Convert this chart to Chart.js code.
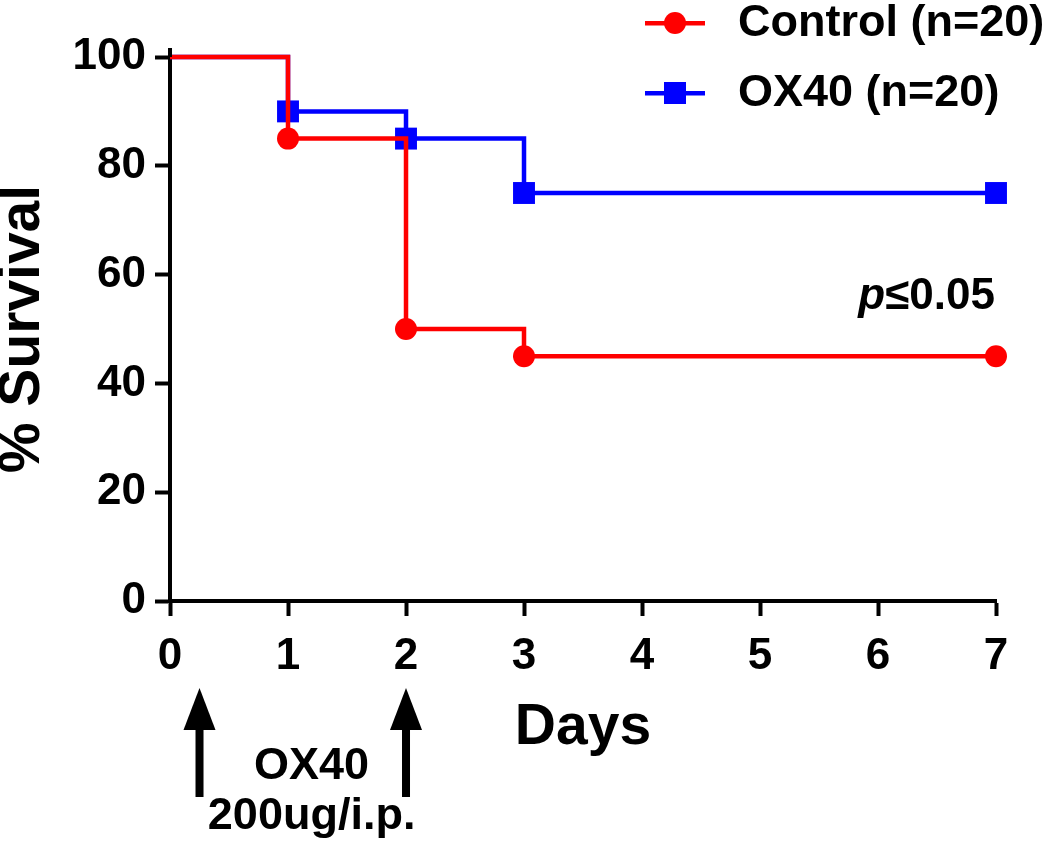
<!DOCTYPE html>
<html>
<head>
<meta charset="utf-8">
<script src="https://cdn.jsdelivr.net/npm/chart.js@4"></script>
<style>
html, body { margin: 0; padding: 0; background: #fff; }
#wrap { width: 1050px; height: 844px; }
</style>
</head>
<body>
<div id="wrap"><canvas id="grafico"></canvas></div>
<script>
// dados (Kaplan-Meier, degraus)
const days = [0, 1, 2, 3, 7];
const controlSurvival = [100, 85, 50, 45, 45];
const ox40Survival = [100, 90, 85, 75, 75];
const seriesNames = ['Control (n=20)', 'OX40 (n=20)'];
const doseDays = [0.25, 2];
const doseLabel = ['OX40', '200ug/i.p.'];
const pValue = ['p', '≤0.05'];

const fonte = '"Liberation Sans", Arial, sans-serif';
const vermelho = '#ff0000';
const azul = '#0000ff';

function pontos(ys) {
    return days.map((d, i) => ({ x: d, y: ys[i] }));
}

// setas, rótulo da dose, p e legenda
const anotacoes = {
    id: 'anotacoes',
    afterDraw(chart) {
        const { ctx, chartArea, scales: { x, y } } = chart;
        ctx.save();
        ctx.fillStyle = '#000';

        // eixo y passa um pouco acima do 100
        ctx.fillRect(chartArea.left - 2, chartArea.top - 9, 4, 9);

        // setas de dose
        doseDays.forEach(d => {
            const px = x.getPixelForValue(d);
            const ponta = chartArea.bottom + 87;
            const base = chartArea.bottom + 196;
            ctx.fillRect(px - 4, ponta + 38, 8, base - ponta - 38);
            ctx.beginPath();
            ctx.moveTo(px, ponta);
            ctx.lineTo(px - 16, ponta + 42);
            ctx.lineTo(px + 16, ponta + 42);
            ctx.closePath();
            ctx.fill();
        });

        ctx.font = 'bold 45px ' + fonte;
        ctx.textAlign = 'center';
        ctx.textBaseline = 'middle';
        const cx = x.getPixelForValue(1.2);
        ctx.fillText(doseLabel[0], cx, chartArea.bottom + 166);
        ctx.fillText(doseLabel[1], cx, chartArea.bottom + 216);

        // p<=0.05
        const direita = x.getPixelForValue(7) - 1;
        const py = y.getPixelForValue(56);
        ctx.textAlign = 'right';
        ctx.font = 'bold 44px ' + fonte;
        const w = ctx.measureText(pValue[1]).width;
        ctx.fillText(pValue[1], direita, py);
        ctx.font = 'italic bold 44px ' + fonte;
        ctx.fillText(pValue[0], direita - w, py);

        // legenda
        const cores = [vermelho, azul];
        const ys = [23, 93];
        ctx.textAlign = 'left';
        ctx.font = 'bold 45px ' + fonte;
        seriesNames.forEach((nome, i) => {
            ctx.fillStyle = cores[i];
            ctx.fillRect(645, ys[i] - 2, 60, 4.5);
            if (i === 0) {
                ctx.beginPath();
                ctx.arc(675, ys[i], 11, 0, Math.PI * 2);
                ctx.fill();
            } else {
                ctx.fillRect(664, ys[i] - 11, 22, 22);
            }
            ctx.fillStyle = '#000';
            ctx.fillText(nome, 738, ys[i] + 1);
        });
        ctx.restore();
    }
};

const ctx = document.getElementById('grafico').getContext('2d');

const grafico = new Chart(ctx, {
    type: 'line',
    data: {
        datasets: [{
            label: seriesNames[0],
            data: pontos(controlSurvival),
            borderColor: vermelho,
            backgroundColor: vermelho,
            borderWidth: 4.5,
            stepped: true,
            pointStyle: 'circle',
            pointRadius: c => c.dataIndex === 0 ? 0 : 11,
            pointBorderWidth: 0,
            clip: false
        }, {
            label: seriesNames[1],
            data: pontos(ox40Survival),
            borderColor: azul,
            backgroundColor: azul,
            borderWidth: 4.5,
            stepped: true,
            pointStyle: 'rect',
            pointRadius: c => c.dataIndex === 0 ? 0 : 15.5,
            pointBorderWidth: 0,
            clip: false
        }]
    },
    options: {
        responsive: true,
        maintainAspectRatio: false,
        animation: false,
        layout: { padding: { top: 57, right: 54, left: 0, bottom: 0 } },
        plugins: {
            legend: { display: false },
            tooltip: { enabled: false }
        },
        scales: {
            x: {
                type: 'linear',
                min: 0,
                max: 7,
                ticks: {
                    stepSize: 1,
                    color: '#000',
                    padding: 14,
                    font: { family: fonte, size: 44, weight: 'bold' }
                },
                grid: { drawOnChartArea: false, tickLength: 15, tickWidth: 4, tickColor: '#000' },
                border: { color: '#000', width: 4 },
                title: {
                    display: true,
                    text: 'Days',
                    color: '#000',
                    font: { family: fonte, size: 57, weight: 'bold', lineHeight: 1 },
                    padding: { top: 2.7, bottom: 87.5 }
                }
            },
            y: {
                min: 0,
                max: 100,
                ticks: {
                    stepSize: 20,
                    color: '#000',
                    padding: 9,
                    font: { family: fonte, size: 44, weight: 'bold' }
                },
                grid: { drawOnChartArea: false, tickLength: 15, tickWidth: 4, tickColor: '#000' },
                border: { color: '#000', width: 4 },
                title: {
                    display: true,
                    text: '% Survival',
                    color: '#000',
                    font: { family: fonte, size: 57, weight: 'bold', lineHeight: 0.8 },
                    padding: { top: 0, bottom: 18 }
                }
            }
        }
    },
    plugins: [anotacoes]
});
</script>
</body>
</html>
